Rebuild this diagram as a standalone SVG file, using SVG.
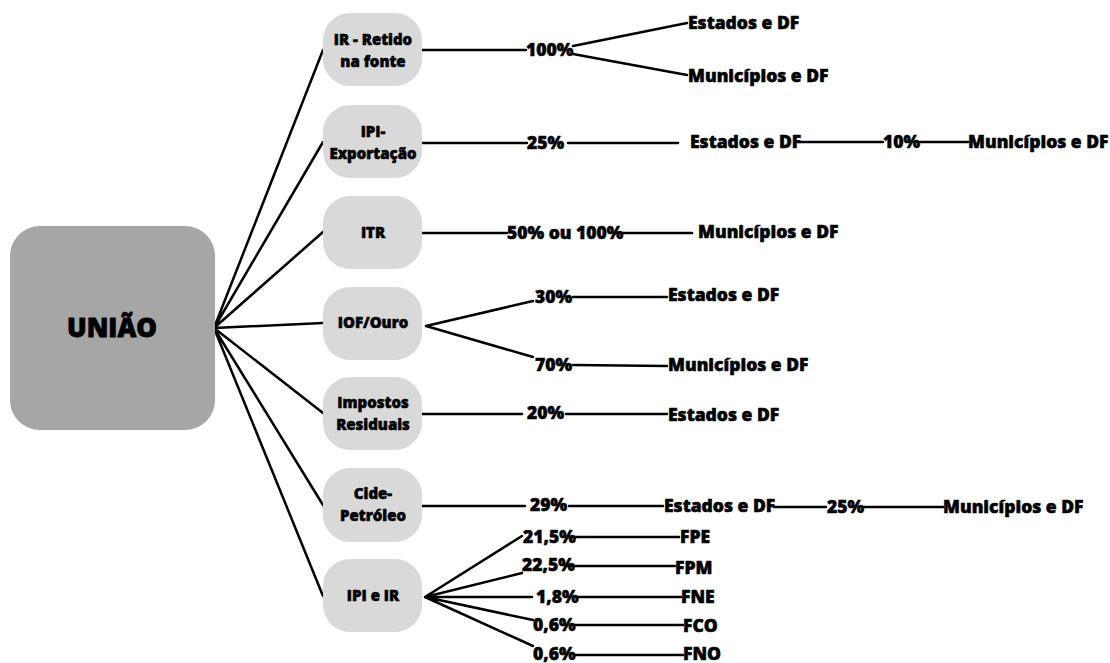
<svg xmlns="http://www.w3.org/2000/svg" width="1110" height="663" viewBox="0 0 1110 663">
<style>
.bg{fill:#ffffff}
.main{fill:#a6a6a6}
.node{fill:#d9d9d9}
.c{stroke:#000;stroke-width:2.5;fill:none;stroke-linecap:round}
.t{font-family:"Open Sans","Liberation Sans",sans-serif;font-weight:800;fill:#000;stroke:#000;stroke-width:0.55;stroke-linejoin:round}
.nt{font-size:15px;text-anchor:middle}
.lt{font-size:17.5px}
.mt{font-size:26px;text-anchor:middle;stroke-width:0.8}
</style>
<rect class="bg" x="0" y="0" width="1110" height="663"/>
<g id="connectors">
<path class="c" d="M214,328L323,50M214,328L323,142M214,328L323,232M214,328L323,323M214,328L323,413M214,328L323,505M214,328L323,596"/>
<path class="c" d="M422,50L526,50M573,46L687,23M573,54L687,75"/>
<path class="c" d="M422,143L527,143M568,143L678,143M800,142L883,142M920,142L968,142"/>
<path class="c" d="M422,233L507,233M615,233L692,233"/>
<path class="c" d="M426,326L533,301M426,326L533,357M573,297L667,297M573,365L667,366"/>
<path class="c" d="M422,414L522,414M566,414L667,414"/>
<path class="c" d="M422,506L525,506M569,506L663,506M774,507L826,507M863,507L943,507"/>
<path class="c" d="M425,597L522,536M425,597L522,573M425,597L532,597M425,597L533,620M425,597L533,646M567,537L679,537M567,566L675,566M577,597L681,597M575,625L683,625M575,655L683,655"/>
</g>
<g id="uniao">
<rect class="main" x="10" y="226" width="205" height="204" rx="30"/>
<text class="t mt" x="112" y="337">UNIÃO</text>
</g>
<g id="n-ir">
<rect class="node" x="323" y="13" width="99" height="73" rx="27"/>
<text class="t nt" x="373" y="45">IR - Retido</text>
<text class="t nt" x="373" y="67">na fonte</text>
</g>
<g id="n-ipiexp">
<rect class="node" x="323" y="105" width="99" height="73" rx="27"/>
<text class="t nt" x="373" y="137">IPI-</text>
<text class="t nt" x="373" y="159">Exportação</text>
</g>
<g id="n-itr">
<rect class="node" x="323" y="196" width="99" height="73" rx="27"/>
<text class="t nt" x="373" y="238">ITR</text>
</g>
<g id="n-iof">
<rect class="node" x="323" y="287" width="99" height="73" rx="27"/>
<text class="t nt" x="373" y="328">IOF/Ouro</text>
</g>
<g id="n-imp">
<rect class="node" x="323" y="377" width="99" height="73" rx="27"/>
<text class="t nt" x="373" y="408">Impostos</text>
<text class="t nt" x="373" y="430">Residuais</text>
</g>
<g id="n-cide">
<rect class="node" x="323" y="468" width="99" height="74" rx="27"/>
<text class="t nt" x="373" y="499">Cide-</text>
<text class="t nt" x="373" y="521">Petróleo</text>
</g>
<g id="n-ipiir">
<rect class="node" x="323" y="559" width="99" height="73" rx="27"/>
<text class="t nt" x="373" y="601">IPI e IR</text>
</g>
<g id="labels">
<text class="t lt" x="526" y="56">100%</text>
<text class="t lt" x="688" y="29">Estados e DF</text>
<text class="t lt" x="688" y="82">Municípios e DF</text>
<text class="t lt" x="527" y="149">25%</text>
<text class="t lt" x="690" y="148">Estados e DF</text>
<text class="t lt" x="883" y="148">10%</text>
<text class="t lt" x="968" y="148">Municípios e DF</text>
<text class="t lt" x="507" y="239">50% ou 100%</text>
<text class="t lt" x="698" y="238">Municípios e DF</text>
<text class="t lt" x="535" y="303">30%</text>
<text class="t lt" x="668" y="301">Estados e DF</text>
<text class="t lt" x="535" y="371">70%</text>
<text class="t lt" x="668" y="371">Municípios e DF</text>
<text class="t lt" x="527" y="419">20%</text>
<text class="t lt" x="668" y="421">Estados e DF</text>
<text class="t lt" x="530" y="511">29%</text>
<text class="t lt" x="664" y="512">Estados e DF</text>
<text class="t lt" x="827" y="513">25%</text>
<text class="t lt" x="943" y="513">Municípios e DF</text>
<text class="t lt" x="523" y="543">21,5%</text>
<text class="t lt" x="680" y="543">FPE</text>
<text class="t lt" x="522" y="571">22,5%</text>
<text class="t lt" x="675" y="574">FPM</text>
<text class="t lt" x="536" y="603">1,8%</text>
<text class="t lt" x="681" y="603">FNE</text>
<text class="t lt" x="533" y="631">0,6%</text>
<text class="t lt" x="683" y="632">FCO</text>
<text class="t lt" x="533" y="660">0,6%</text>
<text class="t lt" x="683" y="660">FNO</text>
</g>
</svg>
